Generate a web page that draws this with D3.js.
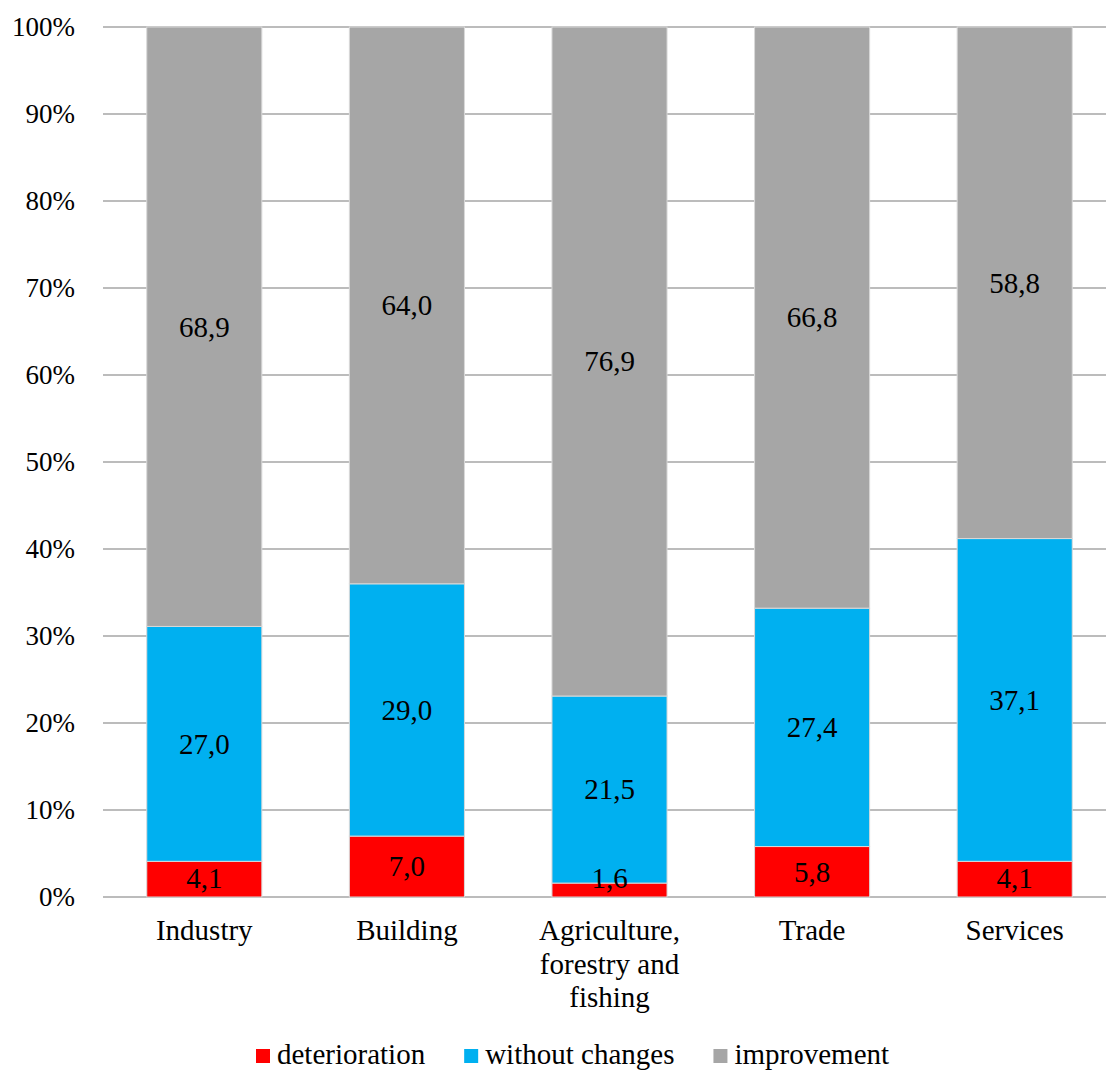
<!DOCTYPE html>
<html>
<head>
<meta charset="utf-8">
<script src="https://cdn.jsdelivr.net/npm/d3@7"></script>
<style>
  body { margin: 0; background: #fff; }
  svg { display: block; font-family: "Liberation Serif", "Times New Roman", serif; }
</style>
</head>
<body>
<div id="chart"></div>
<script>
const categories = ["Industry", "Building", "Agriculture, forestry and fishing", "Trade", "Services"];
const categoryLines = [["Industry"], ["Building"], ["Agriculture,", "forestry and", "fishing"], ["Trade"], ["Services"]];
const deterioration = [4.1, 7.0, 1.6, 5.8, 4.1];
const withoutChanges = [27.0, 29.0, 21.5, 27.4, 37.1];
const improvement = [68.9, 64.0, 76.9, 66.8, 58.8];
const seriesNames = ["deterioration", "without changes", "improvement"];
const yTicks = [0, 10, 20, 30, 40, 50, 60, 70, 80, 90, 100];

const colors = {
  deterioration: "#ff0000",
  "without changes": "#00b0f0",
  improvement: "#a6a6a6",
  grid: "#a6a6a6",
  text: "#000"
};

const W = 1106, H = 1070;
const margin = { top: 27, right: -10, bottom: 173, left: 103 };
const plotW = W - margin.left - margin.right;
const plotH = H - margin.top - margin.bottom;
const tickSize = 27;
const fontSize = 29;

const svg = d3.select("#chart")
  .append("svg")
  .attr("width", W)
  .attr("height", H);

const g = svg.append("g")
  .attr("transform", `translate(${margin.left},${margin.top})`);

const x = d3.scaleBand()
  .domain(categories)
  .range([0, plotW])
  .paddingInner(0.432)
  .paddingOuter(0.216);

const y = d3.scaleLinear()
  .domain([0, 100])
  .range([plotH, 0]);

// rows for the stack
const rows = categories.map((c, i) => ({
  category: c,
  "deterioration": deterioration[i],
  "without changes": withoutChanges[i],
  "improvement": improvement[i]
}));

const stacked = d3.stack().keys(seriesNames)(rows);

// gridlines
g.selectAll(".grid")
  .data(yTicks)
  .enter()
  .append("line")
  .attr("class", "grid")
  .attr("x1", 0)
  .attr("x2", plotW)
  .attr("y1", d => y(d))
  .attr("y2", d => y(d))
  .attr("stroke", colors.grid)
  .attr("stroke-width", 1.4);

// y tick labels
g.selectAll(".ytick")
  .data(yTicks)
  .enter()
  .append("text")
  .attr("class", "ytick")
  .attr("x", -28)
  .attr("y", d => y(d))
  .attr("dy", "0.34em")
  .attr("text-anchor", "end")
  .style("font-size", tickSize + "px")
  .style("fill", colors.text)
  .text(d => d + "%");

// bars
const layer = g.selectAll(".layer")
  .data(stacked)
  .enter()
  .append("g")
  .attr("class", "layer")
  .attr("fill", d => colors[d.key]);

layer.selectAll("rect")
  .data(d => d)
  .enter()
  .append("rect")
  .attr("x", d => x(d.data.category))
  .attr("y", d => y(d[1]))
  .attr("width", x.bandwidth())
  .attr("height", d => y(d[0]) - y(d[1]))
  .attr("stroke", "#d9d9d9")
  .attr("stroke-width", 1);

// value labels, on top of all bars (kept inside the plot area, like Excel does)
const labelData = stacked.flatMap(s => s);
g.append("g")
  .attr("class", "values")
  .selectAll("text")
  .data(labelData)
  .enter()
  .append("text")
  .attr("x", d => x(d.data.category) + x.bandwidth() / 2)
  .attr("y", d => Math.min(y((d[0] + d[1]) / 2), plotH - 19))
  .attr("dy", "0.34em")
  .attr("text-anchor", "middle")
  .style("font-size", fontSize + "px")
  .style("fill", colors.text)
  .text(d => d3.format(".1f")(d[1] - d[0]).replace(".", ","));

// x category labels
const lineHeight = 33.5;
g.selectAll(".xlabel")
  .data(categories)
  .enter()
  .append("text")
  .attr("class", "xlabel")
  .attr("text-anchor", "middle")
  .style("font-size", fontSize + "px")
  .style("fill", colors.text)
  .each(function(d, i) {
    const t = d3.select(this);
    categoryLines[i].forEach((line, j) => {
      t.append("tspan")
        .attr("x", x(d) + x.bandwidth() / 2)
        .attr("y", plotH + 43 + j * lineHeight)
        .text(line);
    });
  });

// legend
const legend = svg.append("g")
  .attr("transform", "translate(256,1049)");

let lx = 0;
seriesNames.forEach(name => {
  const item = legend.append("g").attr("transform", `translate(${lx},0)`);
  item.append("rect")
    .attr("width", 14)
    .attr("height", 14)
    .attr("fill", colors[name]);
  const t = item.append("text")
    .attr("x", 21)
    .attr("y", 15)
    .style("font-size", fontSize + "px")
    .style("fill", colors.text)
    .text(name);
  lx += 21 + t.node().getComputedTextLength() + 39;
});
</script>
</body>
</html>
